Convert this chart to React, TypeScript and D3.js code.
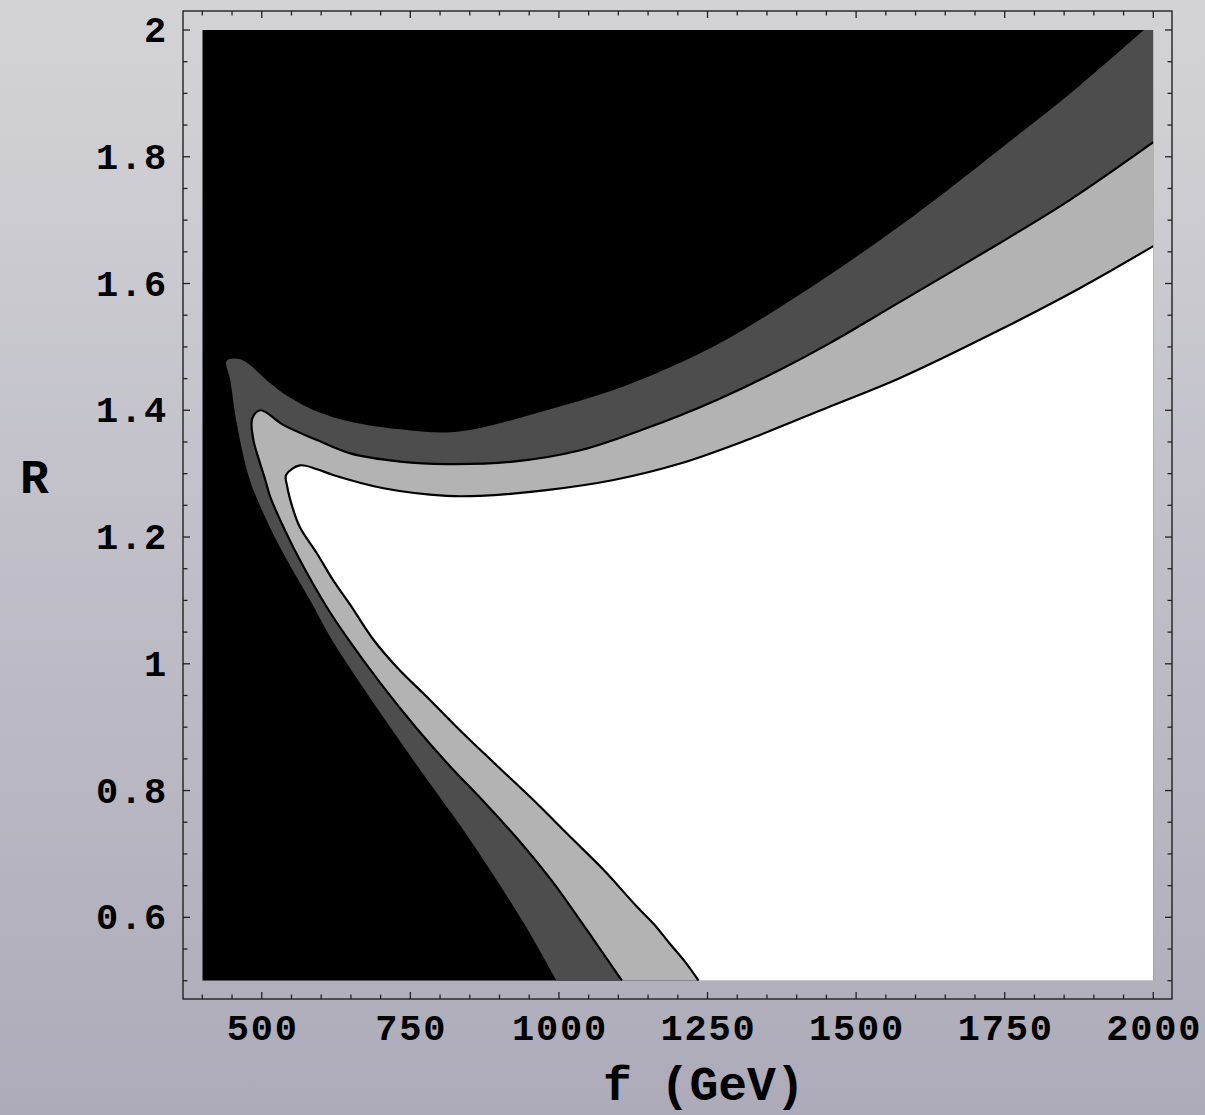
import React from "react";
import * as d3 from "d3";

// Contour boundaries in (f [GeV], R); each runs from the bottom edge up the
// left arm, through the cusp, and out along the upper arm.
const outerContour: [number, number][] = [
  [996, 0.5], [951, 0.575], [906, 0.643], [839, 0.738], [783, 0.811], [731, 0.88],
  [673, 0.959], [618, 1.038], [581, 1.101], [536, 1.175], [508, 1.227], [480, 1.29],
  [458, 1.379], [447, 1.448], [441, 1.478], [465, 1.48], [514, 1.443], [536, 1.427],
  [593, 1.398], [649, 1.382], [733, 1.37], [811, 1.365], [867, 1.372], [979, 1.4],
  [1092, 1.432], [1204, 1.475], [1288, 1.515], [1406, 1.583], [1574, 1.691],
  [1742, 1.812], [1877, 1.913], [1984, 2.0],
];

const middleContour: [number, number][] = [
  [1106, 0.5], [1047, 0.58], [991, 0.654], [932, 0.722], [871, 0.785], [817, 0.838],
  [758, 0.901], [700, 0.969], [646, 1.038], [609, 1.09], [564, 1.164], [531, 1.227],
  [514, 1.264], [506, 1.29], [492, 1.332], [486, 1.353], [484, 1.387], [498, 1.4],
  [536, 1.377], [593, 1.353], [649, 1.332], [733, 1.319], [811, 1.315], [923, 1.319],
  [1036, 1.337], [1148, 1.372], [1260, 1.414], [1372, 1.464], [1456, 1.506],
  [1574, 1.571], [1742, 1.664], [1860, 1.732], [2000, 1.823],
];

const innerContour: [number, number][] = [
  [1235, 0.5], [1212, 0.53], [1186, 0.559], [1160, 0.589], [1131, 0.617], [1075, 0.675],
  [1019, 0.727], [957, 0.785], [895, 0.84], [839, 0.89], [783, 0.943], [727, 0.995],
  [688, 1.038], [649, 1.093], [620, 1.132], [593, 1.174], [564, 1.216], [553, 1.243],
  [543, 1.279], [541, 1.298], [564, 1.313], [593, 1.307], [620, 1.298], [705, 1.277],
  [811, 1.265], [867, 1.265], [979, 1.274], [1092, 1.29], [1204, 1.316], [1316, 1.353],
  [1456, 1.406], [1574, 1.451], [1742, 1.527], [1877, 1.593], [2000, 1.659],
];

const xTickLabels = [500, 750, 1000, 1250, 1500, 1750, 2000];
const yTickLabels = [0.6, 0.8, 1.0, 1.2, 1.4, 1.6, 1.8, 2.0];

const W = 1205;
const H = 1115;
const frame = { left: 183, right: 1172, top: 11, bottom: 999 };
const FONT = "'Liberation Mono', 'DejaVu Sans Mono', monospace";

export default function App() {
  const x = d3.scaleLinear().domain([400, 2000]).range([202.3, 1153.3]);
  const y = d3.scaleLinear().domain([0.5, 2.0]).range([980.7, 30]);

  const line = d3
    .line<[number, number]>()
    .x((d) => x(d[0]))
    .y((d) => y(d[1]))
    .curve(d3.curveCatmullRom.alpha(0.5));

  const closed = (pts: [number, number][], extra: [number, number][]) =>
    line(pts)! + extra.map((p) => `L${x(p[0])},${y(p[1])}`).join("") + "Z";

  const outerArea = closed(outerContour, [[2000, 2.0], [2000, 0.5]]);
  const middleArea = closed(middleContour, [[2000, 0.5]]);
  const innerArea = closed(innerContour, [[2000, 0.5]]);

  const xTicks = d3.range(400, 2000.1, 50);
  const yTicks = d3.range(0.5, 2.0001, 0.05);
  const isMajorX = (v: number) => Math.abs(v % 250) < 1e-6;
  const isMajorY = (v: number) => {
    const r = (v * 10) / 2;
    return Math.abs(r - Math.round(r)) < 1e-6;
  };

  const fmtY = (v: number) => (Math.abs(v - Math.round(v)) < 1e-9 ? String(Math.round(v)) : v.toFixed(1));

  return (
    <svg
      width={W}
      height={H}
      style={{ position: "absolute", left: 0, top: 0 }}
      xmlns="http://www.w3.org/2000/svg"
    >
      <defs>
        <linearGradient id="bg" x1="0" y1="0" x2="0" y2="1">
          <stop offset="0%" stopColor="#d3d3d7" />
          <stop offset="100%" stopColor="#adabb9" />
        </linearGradient>
        <clipPath id="plotClip">
          <rect x={x(400)} y={y(2)} width={x(2000) - x(400)} height={y(0.5) - y(2)} />
        </clipPath>
      </defs>
      <rect x={0} y={0} width={W} height={H} fill="url(#bg)" />

      <g clipPath="url(#plotClip)">
        <rect x={x(400)} y={y(2)} width={x(2000) - x(400)} height={y(0.5) - y(2)} fill="#000" />
        <path d={outerArea} fill="#4d4d4d" />
        <path d={middleArea} fill="#b3b3b3" />
        <path d={innerArea} fill="#ffffff" />
        <path d={line(middleContour)!} fill="none" stroke="#000" strokeWidth={2.2} strokeLinejoin="round" />
        <path d={line(innerContour)!} fill="none" stroke="#000" strokeWidth={2.2} strokeLinejoin="round" />
      </g>

      <rect
        x={frame.left}
        y={frame.top}
        width={frame.right - frame.left}
        height={frame.bottom - frame.top}
        fill="none"
        stroke="#222"
        strokeWidth={1.4}
      />

      {xTicks.map((v) => {
        const len = isMajorX(v) ? 7 : 4.5;
        return (
          <g key={`xt${v}`} stroke="#222" strokeWidth={1.3}>
            <line x1={x(v)} x2={x(v)} y1={frame.bottom} y2={frame.bottom - len} />
            <line x1={x(v)} x2={x(v)} y1={frame.top} y2={frame.top + len} />
          </g>
        );
      })}
      {yTicks.map((v) => {
        const len = isMajorY(v) ? 7 : 4.5;
        return (
          <g key={`yt${v.toFixed(2)}`} stroke="#222" strokeWidth={1.3}>
            <line x1={frame.left} x2={frame.left + len} y1={y(v)} y2={y(v)} />
            <line x1={frame.right} x2={frame.right - len} y1={y(v)} y2={y(v)} />
          </g>
        );
      })}

      {xTickLabels.map((v) => (
        <text
          key={`xl${v}`}
          x={x(v) + 1}
          y={1040}
          textAnchor="middle"
          fontFamily={FONT}
          fontWeight="bold"
          fontSize={37}
          letterSpacing={1.8}
          fill="#000"
        >
          {v}
        </text>
      ))}
      {yTickLabels.map((v) => (
        <text
          key={`yl${v}`}
          x={168}
          y={y(v) + 12}
          textAnchor="end"
          fontFamily={FONT}
          fontWeight="bold"
          fontSize={37}
          letterSpacing={1.8}
          fill="#000"
        >
          {fmtY(v)}
        </text>
      ))}

      <text x={603} y={1100} fontFamily={FONT} fontWeight="bold" fontSize={48} fill="#000" style={{ whiteSpace: "pre" }}>
        f (GeV)
      </text>
      <text x={20} y={493} fontFamily={FONT} fontWeight="bold" fontSize={48} fill="#000">
        R
      </text>
    </svg>
  );
}
